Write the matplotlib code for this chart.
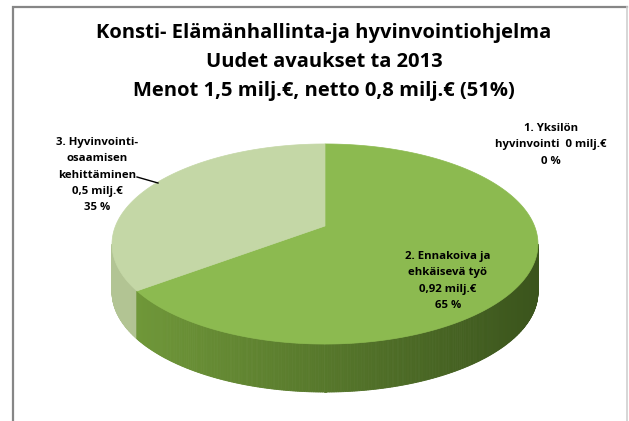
import numpy as np
import matplotlib.pyplot as plt
from matplotlib.patches import Polygon

# data
labels = ["1. Yksilön\nhyvinvointi  0 milj.€\n0 %",
          "2. Ennakoiva ja\nehkäisevä työ\n0,92 milj.€\n65 %",
          "3. Hyvinvointi-\nosaamisen\nkehittäminen\n0,5 milj.€\n35 %"]
values = [0.0, 0.92, 0.5]
title_lines = ["Konsti- Elämänhallinta-ja hyvinvointiohjelma",
               "Uudet avaukset ta 2013",
               "Menot 1,5 milj.€, netto 0,8 milj.€ (51%)"]

top_colors = ["#4F81BD", "#8CBA50", "#C4D7A6"]
side_left = [(0.31, 0.5, 0.74), (0.45, 0.61, 0.23), (0.70, 0.77, 0.58)]
side_right = [(0.2, 0.3, 0.5), (0.23, 0.33, 0.11), (0.62, 0.70, 0.50)]

plt.rcParams['font.family'] = ['Open Sans', 'DejaVu Sans']

fig = plt.figure(figsize=(6.29, 4.21), dpi=100)
ax = fig.add_axes([0, 0, 1, 1])
ax.set_xlim(0, 629)
ax.set_ylim(421, 0)
ax.axis("off")

# chart frame
ax.plot([13, 13, 627], [425, 7, 7], color="#868686", lw=1.6, solid_joinstyle="miter")
ax.plot([627, 627], [7, 425], color="#d0d0d0", lw=1.2)

# 3d pie geometry (perspective tilted disc)
cx, cy = 325, 226
sx, sy = 209.5, 96.8
k = 0.18
depth = 48


def proj(theta):
    x, y = np.cos(theta), np.sin(theta)
    d = 1 + k * y
    return cx + sx * x / d, cy - sy * y / d


fracs = np.array(values) / sum(values)
ends = 90 - np.cumsum(fracs) * 360
starts = np.concatenate([[90], ends[:-1]])


def slice_of(deg):
    for i in range(len(values)):
        lo, hi = ends[i], starts[i]
        d = (deg - lo) % 360
        if fracs[i] > 0 and d <= hi - lo:
            return i
    return len(values) - 1


# side wall: front arc of the rim
th = np.radians(np.linspace(180, 360, 2000))
X, _ = proj(th)
tl, tr = np.degrees(th[np.argmin(X)]), np.degrees(th[np.argmax(X)])
steps = np.linspace(tl, tr, 400)
xmin, xmax = X.min(), X.max()
for a, b in zip(steps[:-1], steps[1:]):
    i = slice_of((a + b) / 2)
    x1, y1 = proj(np.radians(a))
    x2, y2 = proj(np.radians(b))
    t = ((x1 + x2) / 2 - xmin) / (xmax - xmin)
    c = np.array(side_left[i]) * (1 - t) + np.array(side_right[i]) * t
    ax.add_patch(Polygon([(x1, y1), (x2, y2), (x2, y2 + depth), (x1, y1 + depth)],
                         closed=True, facecolor=c, edgecolor=c, lw=0.6))

# top faces
for i in range(len(values)):
    if fracs[i] == 0:
        continue
    t = np.radians(np.linspace(ends[i], starts[i], 300))
    px, py = proj(t)
    pts = [(cx, cy)] + list(zip(px, py))
    ax.add_patch(Polygon(pts, closed=True, facecolor=top_colors[i],
                         edgecolor=top_colors[i], lw=0.5))

# titles
for j, line in enumerate(title_lines):
    ax.text(324, 33 + 29 * j, line, ha="center", va="center",
            fontsize=14.5, fontweight="bold", color="black")

# data labels
label_pos = [(551, 145), (448, 281), (97, 175)]
for lab, (x, y) in zip(labels, label_pos):
    ax.text(x, y, lab, ha="center", va="center", fontsize=8.2,
            fontweight="bold", linespacing=1.65, color="black")
ax.plot([137, 158], [177, 183], color="black", lw=1)

fig.savefig("out.png", dpi=100)
